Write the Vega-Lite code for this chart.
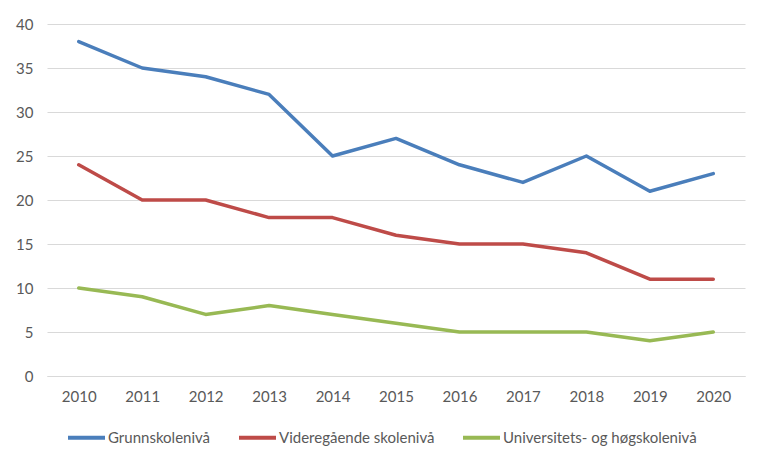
{
  "$schema": "https://vega.github.io/schema/vega-lite/v6.json",
  "width": 698,
  "height": 352,
  "autosize": {"type": "none"},
  "padding": {"left": 47, "top": 24, "right": 23, "bottom": 91},
  "background": "white",
  "config": {
    "font": "Lato",
    "view": {"stroke": null},
    "axis": {"labelFont": "Lato", "labelFontSize": 15, "labelColor": "#595959"}
  },
  "data": {
    "values": [
      {"year": "2010", "series": "Grunnskolenivå", "value": 38},
      {"year": "2011", "series": "Grunnskolenivå", "value": 35},
      {"year": "2012", "series": "Grunnskolenivå", "value": 34},
      {"year": "2013", "series": "Grunnskolenivå", "value": 32},
      {"year": "2014", "series": "Grunnskolenivå", "value": 25},
      {"year": "2015", "series": "Grunnskolenivå", "value": 27},
      {"year": "2016", "series": "Grunnskolenivå", "value": 24},
      {"year": "2017", "series": "Grunnskolenivå", "value": 22},
      {"year": "2018", "series": "Grunnskolenivå", "value": 25},
      {"year": "2019", "series": "Grunnskolenivå", "value": 21},
      {"year": "2020", "series": "Grunnskolenivå", "value": 23},
      {"year": "2010", "series": "Videregående skolenivå", "value": 24},
      {"year": "2011", "series": "Videregående skolenivå", "value": 20},
      {"year": "2012", "series": "Videregående skolenivå", "value": 20},
      {"year": "2013", "series": "Videregående skolenivå", "value": 18},
      {"year": "2014", "series": "Videregående skolenivå", "value": 18},
      {"year": "2015", "series": "Videregående skolenivå", "value": 16},
      {"year": "2016", "series": "Videregående skolenivå", "value": 15},
      {"year": "2017", "series": "Videregående skolenivå", "value": 15},
      {"year": "2018", "series": "Videregående skolenivå", "value": 14},
      {"year": "2019", "series": "Videregående skolenivå", "value": 11},
      {"year": "2020", "series": "Videregående skolenivå", "value": 11},
      {"year": "2010", "series": "Universitets- og høgskolenivå", "value": 10},
      {"year": "2011", "series": "Universitets- og høgskolenivå", "value": 9},
      {"year": "2012", "series": "Universitets- og høgskolenivå", "value": 7},
      {"year": "2013", "series": "Universitets- og høgskolenivå", "value": 8},
      {"year": "2014", "series": "Universitets- og høgskolenivå", "value": 7},
      {"year": "2015", "series": "Universitets- og høgskolenivå", "value": 6},
      {"year": "2016", "series": "Universitets- og høgskolenivå", "value": 5},
      {"year": "2017", "series": "Universitets- og høgskolenivå", "value": 5},
      {"year": "2018", "series": "Universitets- og høgskolenivå", "value": 5},
      {"year": "2019", "series": "Universitets- og høgskolenivå", "value": 4},
      {"year": "2020", "series": "Universitets- og høgskolenivå", "value": 5}
    ]
  },
  "mark": {"type": "line", "strokeWidth": 3.5, "strokeJoin": "round", "strokeCap": "round"},
  "encoding": {
    "x": {
      "field": "year",
      "type": "ordinal",
      "title": null,
      "scale": {"type": "point", "padding": 0.5},
      "axis": {"labelAngle": 0, "ticks": false, "domain": true, "domainColor": "#D9D9D9", "domainWidth": 1, "labelPadding": 13, "grid": false}
    },
    "y": {
      "field": "value",
      "type": "quantitative",
      "title": null,
      "scale": {"domain": [0, 40], "nice": false},
      "axis": {"values": [0, 5, 10, 15, 20, 25, 30, 35, 40], "ticks": false, "domain": false, "gridColor": "#D9D9D9", "gridWidth": 1, "labelPadding": 14}
    },
    "color": {
      "field": "series",
      "type": "nominal",
      "title": null,
      "sort": ["Grunnskolenivå", "Videregående skolenivå", "Universitets- og høgskolenivå"],
      "scale": {
        "domain": ["Grunnskolenivå", "Videregående skolenivå", "Universitets- og høgskolenivå"],
        "range": ["#4A7EBB", "#BE4B48", "#98B954"]
      },
      "legend": {
        "orient": "none",
        "direction": "horizontal",
        "legendX": 19,
        "legendY": 393,
        "symbolType": "stroke",
        "symbolSize": 1369,
        "symbolStrokeWidth": 4,
        "labelFontSize": 15,
        "labelColor": "#595959",
        "labelOffset": 1,
        "labelLimit": 400,
        "columnPadding": 20
      }
    }
  }
}
